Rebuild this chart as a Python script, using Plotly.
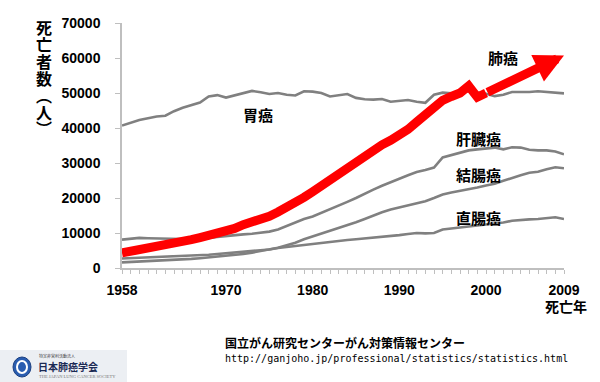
import plotly.graph_objects as go

# ---------------- data ----------------
years = list(range(1958, 2010))
stomach = [40700, 41600, 42300, 42800, 43300, 43500, 44800, 45800, 46500, 47300,
           49000, 49400, 48700, 49300, 50000, 50600, 50200, 49700, 50000, 49500,
           49300, 50500, 50400, 50000, 49000, 49400, 49700, 48600, 48200, 48100,
           48300, 47500, 47700, 48000, 47500, 47200, 49500, 50100, 49900, 50000,
           50500, 50200, 49800, 49100, 49500, 50300, 50200, 50300, 50500, 50300,
           50100, 49900]
liver = [8100, 8300, 8600, 8500, 8400, 8300, 8200, 8300, 8300, 8400,
         8600, 8900, 9200, 9400, 9600, 9800, 10000, 10400, 11000, 12000,
         13000, 14000, 14700, 15700, 16700, 17800, 18900, 20000, 21300, 22400,
         23500, 24600, 25500, 26500, 27400, 28000, 28700, 31600, 32300, 33000,
         33600, 33900, 34100, 34400, 33900, 34500, 34400, 33800, 33600, 33600,
         33300, 32500]
colon = [1600, 1700, 1800, 1900, 2000, 2100, 2200, 2400, 2600, 2800,
         3000, 3200, 3400, 3700, 4000, 4400, 4800, 5300, 5800, 6500,
         7200, 8200, 9000, 9900, 10600, 11300, 12200, 13100, 14000, 15000,
         15900, 16700, 17300, 17800, 18600, 19100, 20000, 21000, 21600, 22000,
         22500, 23000, 23600, 24100, 24900, 25800, 26500, 27200, 27500, 28200,
         28800, 28500]
rectum = [2700, 2800, 2900, 2950, 3000, 3100, 3200, 3300, 3500, 3700,
          3800, 4000, 4200, 4400, 4600, 4800, 5000, 5300, 5700, 6000,
          6300, 6700, 7000, 7300, 7500, 7800, 8000, 8200, 8400, 8600,
          8900, 9100, 9400, 9700, 10000, 9900, 10000, 11000, 11300, 11600,
          11900, 12200, 12400, 12600, 13000, 13500, 13800, 13900, 14000, 14300,
          14500, 14000]
# lung: yearly values to 2000, then the arrow tip
lung_years = list(range(1958, 2001)) + [2009]
lung = [4300, 4700, 5100, 5500, 6000, 6500, 7100, 7600, 8100, 8700,
        9300, 10000, 10500, 11300, 12400, 13100, 13700, 14800, 16000, 17200,
        18700, 20200, 21800, 23500, 25400, 27000, 28600, 29900, 31800, 33600,
        35200, 36500, 37700, 39600, 41700, 43800, 46000, 47900, 49000, 50000,
        52000, 48800, 50000, 60700]

x_label_years = [1958, 1970, 1980, 1990, 2000, 2009]
y_tick_values = [0, 10000, 20000, 30000, 40000, 50000, 60000, 70000]

series_labels = {"胃癌": (258, 115), "肺癌": (503, 57), "肝臓癌": (478, 138),
                 "結腸癌": (478, 174), "直腸癌": (478, 217)}
y_title = "死亡者数︵人︶"

# ---------------- layout geometry ----------------
W, H = 600, 382
L, R, T, B = 122, 36, 23, 114
PX0, PX1 = L, W - R
PY0, PY1 = T, H - B


def px(xp):
    return (xp - PX0) / (PX1 - PX0)


def py(yp):
    return (PY1 - yp) / (PY1 - PY0)


GRAY = "#808080"
AXIS = "#bfbfbf"
JP = "Noto Sans CJK JP"

fig = go.Figure()
for vals in [stomach, liver, colon, rectum]:
    fig.add_trace(go.Scatter(x=years, y=vals, mode="lines",
                             line=dict(color=GRAY, width=2.6),
                             hoverinfo="skip", showlegend=False))

fig.add_trace(go.Scatter(x=lung_years[:-1], y=lung[:-1], mode="lines",
                         line=dict(color="#ff0000", width=9),
                         hoverinfo="skip", showlegend=False))

annotations = [dict(x=lung_years[-1], y=lung[-1], ax=lung_years[-2], ay=lung[-2],
                    xref="x", yref="y", axref="x", ayref="y", text="",
                    showarrow=True, arrowhead=2, arrowwidth=9, arrowsize=0.65,
                    arrowcolor="#ff0000")]

for name, (xp, yp) in series_labels.items():
    annotations.append(dict(x=px(xp), y=py(yp), xref="paper", yref="paper",
                            text=name, showarrow=False,
                            font=dict(family=JP, size=15, color="black", weight="bold"),
                            xanchor="center", yanchor="middle"))

# vertical y-axis title: one character per line, tight line spacing
vert = "<br>".join('<span style="font-size:16px">%s</span>' % ch for ch in y_title)
annotations.append(dict(x=px(44), y=py(14), xref="paper", yref="paper",
                        text=vert, showarrow=False, borderpad=0,
                        font=dict(family=JP, size=13, color="black", weight="bold"),
                        xanchor="center", yanchor="top"))

annotations.append(dict(x=px(566), y=py(306), xref="paper", yref="paper",
                        text="死亡年", showarrow=False,
                        font=dict(family=JP, size=14, color="black", weight="bold"),
                        xanchor="center", yanchor="middle"))

annotations.append(dict(x=px(223), y=py(342), xref="paper", yref="paper",
                        text="国立がん研究センターがん対策情報センター", showarrow=False,
                        font=dict(family=JP, size=12, color="black", weight="bold"),
                        xanchor="left", yanchor="middle"))
annotations.append(dict(x=px(223), y=py(358), xref="paper", yref="paper",
                        text="http://ganjoho.jp/professional/statistics/statistics.html",
                        showarrow=False,
                        font=dict(family="DejaVu Sans Mono", size=10, color="black"),
                        xanchor="left", yanchor="middle"))

# logo
annotations.append(dict(x=px(37), y=py(356), xref="paper", yref="paper",
                        text="特定非営利活動法人", showarrow=False,
                        font=dict(family=JP, size=4, color="#333333"),
                        xanchor="left", yanchor="middle"))
annotations.append(dict(x=px(36), y=py(366), xref="paper", yref="paper",
                        text="日本肺癌学会", showarrow=False,
                        font=dict(family=JP, size=10, color="#1b2a55", weight="bold"),
                        xanchor="left", yanchor="middle"))
annotations.append(dict(x=px(37), y=py(376), xref="paper", yref="paper",
                        text="THE JAPAN LUNG CANCER SOCIETY", showarrow=False,
                        font=dict(family="Liberation Serif", size=4.5, color="#777777"),
                        xanchor="left", yanchor="middle"))

shapes = [
    dict(type="rect", xref="paper", yref="paper", x0=px(0), x1=px(127), y0=py(350), y1=py(382),
         fillcolor="#eceff3", line=dict(width=0), layer="below"),
    dict(type="circle", xref="paper", yref="paper", x0=px(13), x1=px(31), y0=py(357), y1=py(377),
         fillcolor="#2a5db0", line=dict(color="#1b3f80", width=1)),
    dict(type="circle", xref="paper", yref="paper", x0=px(17), x1=px(27), y0=py(361), y1=py(373),
         fillcolor="rgba(0,0,0,0)", line=dict(color="white", width=2)),
]

fig.update_layout(
    width=W, height=H,
    margin=dict(l=L, r=R, t=T, b=B, pad=0),
    paper_bgcolor="white", plot_bgcolor="white",
    annotations=annotations, shapes=shapes,
    xaxis=dict(range=[1958, 2009], tickmode="array", tickvals=years,
               ticktext=[str(y) if y in x_label_years else "" for y in years],
               ticks="outside", ticklen=4, tickcolor=AXIS, tickwidth=1,
               showline=True, linecolor=AXIS, linewidth=1.5, showgrid=False,
               zeroline=False, ticklabelstandoff=4,
               tickfont=dict(family="Liberation Sans", size=14, color="black", weight="bold")),
    yaxis=dict(range=[0, 70000], tickmode="array", tickvals=y_tick_values,
               ticktext=[str(v) for v in y_tick_values],
               ticks="outside", ticklen=5, tickcolor=AXIS, tickwidth=1,
               showline=True, linecolor=AXIS, linewidth=1.5, showgrid=False,
               zeroline=False, ticklabelstandoff=12,
               tickfont=dict(family="Liberation Sans", size=14, color="black", weight="bold")),
)

fig.write_html("out.html", config={"displayModeBar": False},
               post_script="document.body.style.margin='0px';document.documentElement.style.margin='0px';")
